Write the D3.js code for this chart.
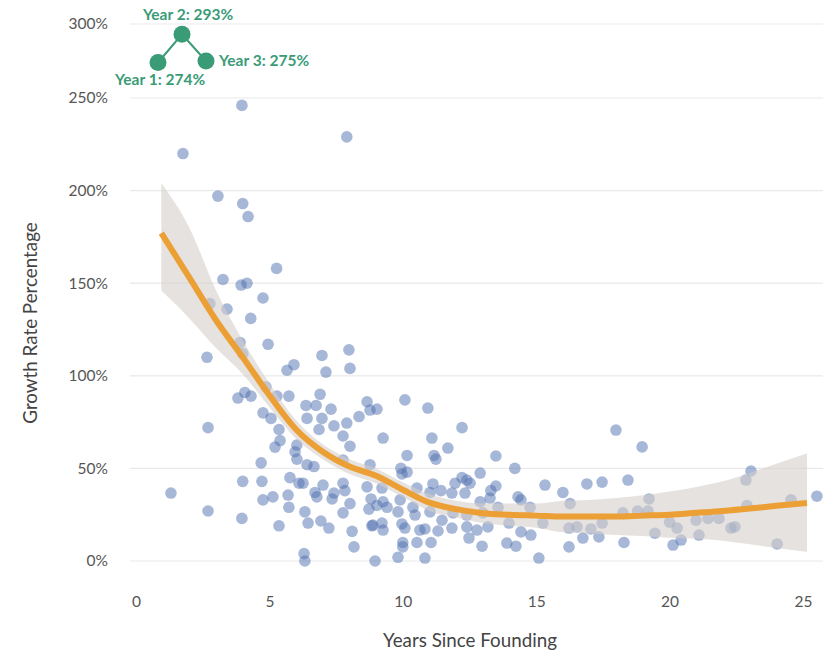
<!DOCTYPE html>
<html>
<head>
<meta charset="utf-8">
<script src="https://cdn.jsdelivr.net/npm/d3@7"></script>
<style>
  body { margin: 0; background: #fff; }
  text { font-family: Lato, "Open Sans", sans-serif; }
</style>
</head>
<body>
<div id="chart"></div>
<script>
// scatter points: [years since founding, growth %]
const points = [
  [1.76, 220], [3.97, 246], [7.90, 229], [3.07, 197], [4.00, 193], [4.20, 186], [5.27, 158],
  [3.26, 152], [3.94, 149], [4.16, 150], [4.76, 142], [2.77, 139], [3.41, 136], [4.30, 131],
  [3.90, 118], [4.95, 117], [2.66, 110], [4.00, 112], [6.97, 111], [7.98, 114], [8.02, 104],
  [5.66, 103], [5.92, 106], [7.12, 102], [3.82, 88], [4.08, 91], [4.31, 89], [4.87, 94],
  [5.28, 89], [5.73, 89], [6.90, 90], [6.37, 84], [6.75, 84], [7.31, 82], [6.41, 77],
  [6.97, 77], [7.42, 73], [7.90, 74.5], [8.36, 78], [8.66, 86], [9.03, 82], [8.77, 81.5],
  [4.76, 80], [5.06, 77], [5.36, 71], [6.86, 71], [7.76, 67.5], [8.02, 62], [2.70, 72],
  [5.40, 65], [5.21, 61.5], [6.03, 62.6], [5.96, 59], [6.03, 55], [6.41, 52], [6.67, 51],
  [4.69, 53], [7.76, 54.5], [8.77, 52], [4.00, 43], [4.72, 43], [5.77, 45], [6.11, 42],
  [6.26, 42], [7.01, 41], [6.71, 37], [6.78, 34.6], [7.42, 36.7], [7.76, 42], [7.83, 38],
  [8.02, 31], [7.35, 33.5], [8.66, 40], [8.81, 33.5], [8.73, 28], [1.31, 36.7], [2.70, 27],
  [4.76, 33], [5.13, 34.6], [5.70, 35.6], [5.73, 29], [3.97, 23], [5.36, 19], [6.33, 26.5],
  [6.45, 20.5], [6.93, 21.6], [7.23, 17.8], [7.76, 26], [8.10, 16], [8.17, 7.6], [8.84, 19],
  [9.03, 30], [6.30, 4], [6.33, 0], [8.96, 0],
  [10.08, 87], [10.94, 82.6], [12.22, 72], [9.26, 66.4], [11.09, 66.4], [11.69, 61],
  [10.16, 57], [11.17, 57], [11.24, 55], [13.49, 56.7], [14.20, 50], [17.99, 70.7],
  [9.93, 50], [10.16, 48], [9.97, 47], [12.90, 47.5], [12.22, 45], [12.40, 43.7], [12.52, 42],
  [11.96, 42], [11.13, 41.6], [9.22, 39.4], [11.02, 37], [11.43, 38], [13.49, 40.5], [13.30, 38],
  [15.33, 41], [16.00, 37], [16.90, 41.6], [17.47, 42.6], [16.27, 31], [10.53, 39.4],
  [11.84, 36.7], [12.33, 36.7], [13.27, 34], [14.32, 34.6], [14.43, 33], [14.77, 29],
  [10.38, 29], [9.26, 32], [9.90, 33], [9.82, 26.5], [10.46, 24.8], [11.02, 26.5], [11.47, 22],
  [11.88, 26], [12.90, 32], [13.57, 29], [8.88, 19.4], [9.26, 16.7], [9.97, 20], [10.08, 17.8],
  [10.64, 16.7], [10.83, 17.3], [11.32, 16.2], [11.84, 17.8], [12.40, 18.4], [12.78, 16.7],
  [13.19, 18.4], [13.98, 20.5], [14.43, 15.7], [14.80, 14], [15.25, 20.5], [16.23, 17.8],
  [10.00, 10], [10.00, 7.6], [10.53, 10], [11.06, 10], [12.48, 12.4], [12.97, 8], [13.90, 9.7],
  [14.24, 8], [16.23, 7.6], [16.75, 12.4], [17.35, 13], [9.82, 2], [10.83, 1.6], [15.10, 1.6],
  [18.97, 61.6], [18.44, 43.7], [23.05, 48.6], [22.86, 43.7], [19.23, 33.5], [24.55, 33],
  [25.52, 35], [18.25, 26], [18.80, 27], [19.19, 27], [22.90, 30], [17.47, 20.5], [20.00, 21],
  [20.28, 17.8], [20.99, 22], [21.44, 23], [21.85, 23], [22.30, 17.8], [22.45, 18.4],
  [19.45, 15], [18.29, 10], [20.13, 8.6], [20.43, 11.3], [21.10, 14], [24.03, 9.2],
  [16.53, 18.4], [17.05, 17.3], [12.40, 24.8], [13.00, 26], [9.22, 20.5], [9.41, 29]
];

// smoothed trend and its confidence band
const fitYears = [0.95, 2, 3, 4, 5, 6, 7, 8, 9, 10, 11, 12, 13, 14, 15, 16, 17, 18, 19, 20, 21, 22, 23, 24, 25.15];
const fitValues = [177, 153, 130, 110, 89.5, 71, 59, 51, 46, 38.5, 31.5, 28, 25.8, 25, 24.5, 24, 24, 24, 24.5, 25, 26, 27, 28.3, 29.8, 31.3];
const fitUpper = [204, 180, 146, 119, 96, 76, 63, 55, 50, 42.5, 36, 32.5, 31, 31, 31, 32.5, 33, 34, 35.5, 37.5, 40, 43, 47.5, 52.5, 58];
const fitLower = [146, 131, 115, 101, 83, 66, 55, 47, 42, 34.5, 27, 23.5, 20.5, 19, 18, 15.5, 15, 14, 13.5, 12.5, 12, 11, 9, 7, 5];

// first three years inset
const insetYears = [1, 2, 3];
const insetValues = [274, 293, 275];

const xTicks = [0, 5, 10, 15, 20, 25];
const yTicks = [0, 50, 100, 150, 200, 250, 300];

const width = 826, height = 652;
const green = "#3a9b77";

const svg = d3.select("#chart")
  .append("svg")
  .attr("width", width)
  .attr("height", height);

const x = d3.scaleLinear().domain([0, 25]).range([136, 803]);
const y = d3.scaleLinear().domain([0, 250, 300]).range([561, 98, 24]);

// gridlines
svg.append("g")
  .selectAll("line")
  .data(yTicks)
  .join("line")
  .attr("x1", 130)
  .attr("x2", 823)
  .attr("y1", d => y(d))
  .attr("y2", d => y(d))
  .attr("stroke", "#e9e9e9")
  .attr("stroke-width", 1.2);

const yAxis = d3.axisLeft(y).tickValues(yTicks).tickFormat(d => d + "%").tickSize(0).tickPadding(0);
svg.append("g")
  .attr("transform", "translate(108,0)")
  .call(yAxis)
  .call(g => g.select(".domain").remove())
  .selectAll("text")
  .attr("fill", "#555")
  .style("font-size", "15.5px")
  .style("font-family", "Lato, sans-serif");

const xAxis = d3.axisBottom(x).tickValues(xTicks).tickSize(0).tickPadding(0);
svg.append("g")
  .attr("transform", "translate(0,596)")
  .call(xAxis)
  .call(g => g.select(".domain").remove())
  .selectAll("text")
  .attr("fill", "#555")
  .style("font-size", "15.5px")
  .style("font-family", "Lato, sans-serif");

svg.append("text")
  .attr("transform", "rotate(-90)")
  .attr("x", -323)
  .attr("y", 37)
  .attr("text-anchor", "middle")
  .attr("fill", "#444")
  .style("font-size", "18.8px")
  .text("Growth Rate Percentage");

svg.append("text")
  .attr("x", 470)
  .attr("y", 647)
  .attr("text-anchor", "middle")
  .attr("fill", "#444")
  .style("font-size", "18.8px")
  .text("Years Since Founding");

// scatter
svg.append("g")
  .selectAll("circle")
  .data(points)
  .join("circle")
  .attr("cx", d => x(d[0]))
  .attr("cy", d => y(d[1]))
  .attr("r", 5.8)
  .attr("fill", "#4f6fb0")
  .attr("fill-opacity", 0.5);

// band + trend
const fit = fitYears.map((yr, i) => ({ year: yr, value: fitValues[i], hi: fitUpper[i], lo: fitLower[i] }));

const band = d3.area()
  .x(d => x(d.year))
  .y0(d => y(d.lo))
  .y1(d => y(d.hi))
  .curve(d3.curveMonotoneX);

svg.append("path")
  .datum(fit)
  .attr("fill", "#d3cfca")
  .attr("fill-opacity", 0.6)
  .attr("d", band);

const trend = d3.line()
  .x(d => x(d.year))
  .y(d => y(d.value))
  .curve(d3.curveMonotoneX);

svg.append("path")
  .datum(fit)
  .attr("fill", "none")
  .attr("stroke", "#eb9f34")
  .attr("stroke-width", 6)
  .attr("d", trend);

// inset: first three years
const ix = d3.scalePoint().domain(insetYears).range([158, 206]);
const inset = insetYears.map((yr, i) => ({ year: yr, value: insetValues[i] }));

svg.append("path")
  .datum(inset)
  .attr("fill", "none")
  .attr("stroke", green)
  .attr("stroke-width", 2)
  .attr("d", d3.line().x(d => ix(d.year)).y(d => y(d.value)));

svg.append("g")
  .selectAll("circle")
  .data(inset)
  .join("circle")
  .attr("cx", d => ix(d.year))
  .attr("cy", d => y(d.value))
  .attr("r", 8.5)
  .attr("fill", green);

const labelPos = { 1: [-43, 23], 2: [-39, -14], 3: [13, 5] };
svg.append("g")
  .selectAll("text")
  .data(inset)
  .join("text")
  .attr("x", d => ix(d.year) + labelPos[d.year][0])
  .attr("y", d => y(d.value) + labelPos[d.year][1])
  .attr("fill", green)
  .style("font-size", "15.5px")
  .style("font-weight", "bold")
  .text(d => `Year ${d.year}: ${d.value}%`);
</script>
</body>
</html>
